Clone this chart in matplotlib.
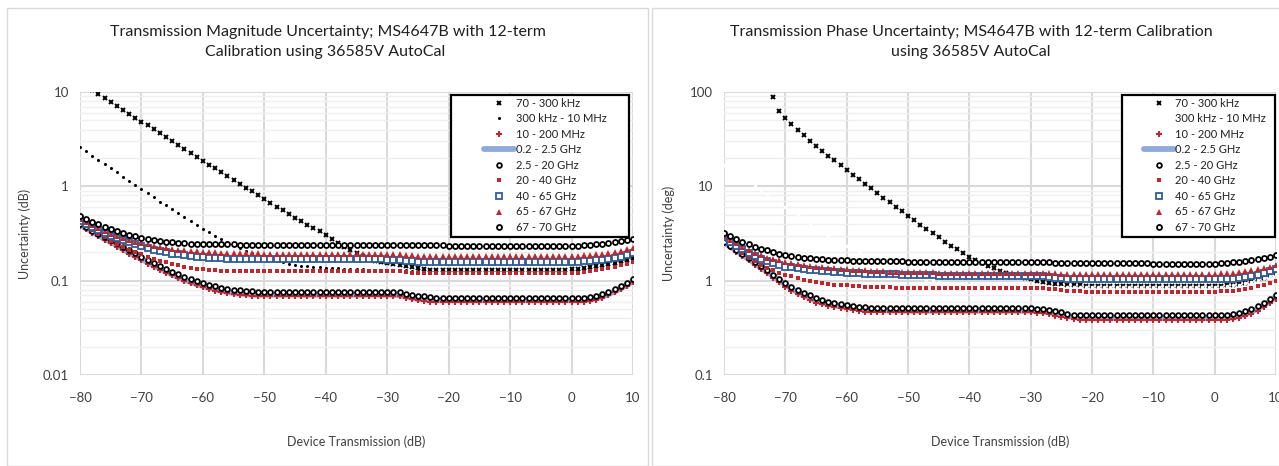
import numpy as np
import matplotlib
matplotlib.use("Agg")
import matplotlib.pyplot as plt
from matplotlib import ticker
from matplotlib.patches import Rectangle

plt.rcParams["font.family"] = ["Lato", "DejaVu Sans"]

# x axis: device transmission (dB), one point per dB
transmission_db = list(range(-80, 11))

series_names = ["70 - 300 kHz", "300 kHz - 10 MHz", "10 - 200 MHz", "0.2 - 2.5 GHz",
                "2.5 - 20 GHz", "20 - 40 GHz", "40 - 65 GHz", "65 - 67 GHz", "67 - 70 GHz"]

# ---- magnitude uncertainty (dB) ----
mag_70k = [
    12.6, 11.4, 10.4, 9.47, 8.61, 7.83, 7.11, 6.47, 5.88, 5.34,
    4.86, 4.42, 4.01, 3.65, 3.32, 3.01, 2.74, 2.49, 2.26, 2.06,
    1.87, 1.70, 1.55, 1.41, 1.28, 1.17, 1.07, 0.970, 0.885, 0.806,
    0.734, 0.670, 0.611, 0.558, 0.510, 0.466, 0.428, 0.393, 0.361, 0.333,
    0.305, 0.278, 0.252, 0.230, 0.210, 0.195, 0.182, 0.172, 0.163, 0.157,
    0.153, 0.150, 0.147, 0.144, 0.140, 0.136, 0.133, 0.131, 0.130, 0.130,
    0.130, 0.130, 0.130, 0.130, 0.130, 0.130, 0.130, 0.130, 0.130, 0.130,
    0.130, 0.130, 0.130, 0.130, 0.130, 0.130, 0.130, 0.130, 0.130, 0.130,
    0.132, 0.134, 0.136, 0.139, 0.142, 0.146, 0.150, 0.155, 0.160, 0.166, 0.172]
mag_300k = [
    2.60, 2.35, 2.12, 1.91, 1.72, 1.56, 1.41, 1.27, 1.15, 1.04,
    0.94, 0.85, 0.77, 0.69, 0.627, 0.569, 0.516, 0.469, 0.426, 0.388,
    0.355, 0.325, 0.299, 0.276, 0.255, 0.236, 0.220, 0.206, 0.195, 0.185,
    0.176, 0.168, 0.162, 0.156, 0.152, 0.148, 0.144, 0.142, 0.140, 0.138,
    0.137, 0.136, 0.135, 0.134, 0.133, 0.132, 0.132, 0.131, 0.131, 0.130,
    0.130, 0.130, 0.130, 0.130, 0.128, 0.128, 0.128, 0.128, 0.128, 0.128,
    0.128, 0.128, 0.128, 0.128, 0.128, 0.128, 0.128, 0.128, 0.128, 0.128,
    0.128, 0.128, 0.128, 0.128, 0.128, 0.128, 0.128, 0.128, 0.128, 0.128,
    0.130, 0.132, 0.134, 0.137, 0.140, 0.144, 0.148, 0.153, 0.158, 0.164, 0.170]
mag_10m = [
    0.38, 0.35, 0.32, 0.295, 0.27, 0.25, 0.23, 0.21, 0.193, 0.178,
    0.165, 0.152, 0.141, 0.131, 0.122, 0.114, 0.106, 0.099, 0.094, 0.089,
    0.085, 0.081, 0.078, 0.076, 0.074, 0.072, 0.071, 0.070, 0.069, 0.069,
    0.069, 0.069, 0.069, 0.069, 0.069, 0.069, 0.069, 0.069, 0.069, 0.069,
    0.069, 0.069, 0.069, 0.069, 0.069, 0.069, 0.069, 0.069, 0.069, 0.069,
    0.069, 0.069, 0.068, 0.066, 0.064, 0.062, 0.061, 0.060, 0.060, 0.060,
    0.060, 0.060, 0.060, 0.060, 0.060, 0.060, 0.060, 0.060, 0.060, 0.060,
    0.060, 0.060, 0.060, 0.060, 0.060, 0.060, 0.060, 0.060, 0.060, 0.060,
    0.060, 0.060, 0.060, 0.061, 0.063, 0.066, 0.070, 0.075, 0.081, 0.088, 0.097]
mag_200m = [
    0.39, 0.36, 0.33, 0.303, 0.278, 0.257, 0.237, 0.216, 0.199, 0.183,
    0.170, 0.157, 0.145, 0.135, 0.126, 0.117, 0.109, 0.102, 0.097, 0.092,
    0.088, 0.084, 0.081, 0.078, 0.076, 0.074, 0.073, 0.072, 0.071, 0.071,
    0.071, 0.071, 0.071, 0.071, 0.071, 0.071, 0.071, 0.071, 0.071, 0.071,
    0.071, 0.071, 0.071, 0.071, 0.071, 0.071, 0.071, 0.071, 0.071, 0.071,
    0.071, 0.071, 0.070, 0.068, 0.066, 0.064, 0.063, 0.062, 0.062, 0.062,
    0.062, 0.062, 0.062, 0.062, 0.062, 0.062, 0.062, 0.062, 0.062, 0.062,
    0.062, 0.062, 0.062, 0.062, 0.062, 0.062, 0.062, 0.062, 0.062, 0.062,
    0.062, 0.062, 0.062, 0.063, 0.065, 0.068, 0.072, 0.077, 0.083, 0.090, 0.099]
mag_2g = [
    0.40, 0.37, 0.34, 0.315, 0.29, 0.27, 0.25, 0.23, 0.21, 0.195,
    0.180, 0.167, 0.155, 0.144, 0.134, 0.125, 0.117, 0.110, 0.104, 0.098,
    0.094, 0.090, 0.087, 0.084, 0.082, 0.080, 0.079, 0.078, 0.077, 0.076,
    0.076, 0.076, 0.076, 0.076, 0.076, 0.076, 0.076, 0.076, 0.076, 0.076,
    0.076, 0.076, 0.076, 0.076, 0.076, 0.076, 0.076, 0.076, 0.076, 0.076,
    0.076, 0.076, 0.075, 0.073, 0.071, 0.069, 0.068, 0.067, 0.066, 0.066,
    0.066, 0.066, 0.066, 0.066, 0.066, 0.066, 0.066, 0.066, 0.066, 0.066,
    0.066, 0.066, 0.066, 0.066, 0.066, 0.066, 0.066, 0.066, 0.066, 0.066,
    0.066, 0.066, 0.066, 0.067, 0.069, 0.072, 0.076, 0.081, 0.087, 0.095, 0.105]
mag_20g = [
    0.42, 0.38, 0.345, 0.315, 0.29, 0.265, 0.245, 0.228, 0.213, 0.200,
    0.190, 0.180, 0.171, 0.163, 0.156, 0.150, 0.145, 0.141, 0.137, 0.134,
    0.132, 0.130, 0.129, 0.128, 0.127, 0.126, 0.126, 0.126, 0.126, 0.126,
    0.126, 0.126, 0.126, 0.126, 0.126, 0.126, 0.126, 0.126, 0.126, 0.126,
    0.126, 0.126, 0.126, 0.126, 0.126, 0.126, 0.126, 0.126, 0.126, 0.126,
    0.126, 0.126, 0.126, 0.124, 0.122, 0.120, 0.120, 0.120, 0.120, 0.120,
    0.120, 0.120, 0.120, 0.120, 0.120, 0.120, 0.120, 0.120, 0.120, 0.120,
    0.120, 0.120, 0.120, 0.120, 0.120, 0.120, 0.120, 0.120, 0.120, 0.120,
    0.121, 0.122, 0.124, 0.126, 0.129, 0.132, 0.136, 0.140, 0.145, 0.151, 0.158]
mag_40g = [
    0.43, 0.40, 0.37, 0.345, 0.32, 0.30, 0.283, 0.268, 0.255, 0.243,
    0.232, 0.222, 0.213, 0.205, 0.199, 0.194, 0.190, 0.186, 0.183, 0.180,
    0.178, 0.176, 0.174, 0.172, 0.171, 0.170, 0.169, 0.169, 0.168, 0.168,
    0.168, 0.168, 0.168, 0.168, 0.168, 0.168, 0.168, 0.168, 0.168, 0.168,
    0.168, 0.168, 0.168, 0.168, 0.168, 0.168, 0.168, 0.168, 0.168, 0.168,
    0.167, 0.167, 0.165, 0.163, 0.161, 0.159, 0.158, 0.157, 0.157, 0.157,
    0.157, 0.157, 0.157, 0.157, 0.157, 0.157, 0.157, 0.157, 0.157, 0.157,
    0.157, 0.157, 0.157, 0.157, 0.157, 0.157, 0.157, 0.157, 0.157, 0.157,
    0.157, 0.158, 0.160, 0.162, 0.164, 0.167, 0.171, 0.175, 0.180, 0.187, 0.195]
mag_65g = [
    0.45, 0.42, 0.39, 0.36, 0.335, 0.31, 0.295, 0.28, 0.268, 0.258,
    0.250, 0.242, 0.235, 0.228, 0.222, 0.217, 0.213, 0.210, 0.207, 0.204,
    0.202, 0.200, 0.199, 0.198, 0.197, 0.196, 0.196, 0.195, 0.195, 0.195,
    0.194, 0.194, 0.194, 0.194, 0.194, 0.194, 0.194, 0.194, 0.194, 0.194,
    0.193, 0.193, 0.193, 0.193, 0.193, 0.193, 0.193, 0.193, 0.193, 0.193,
    0.192, 0.191, 0.190, 0.188, 0.186, 0.184, 0.183, 0.182, 0.182, 0.182,
    0.182, 0.182, 0.182, 0.182, 0.182, 0.182, 0.182, 0.182, 0.182, 0.182,
    0.182, 0.182, 0.182, 0.182, 0.182, 0.182, 0.182, 0.182, 0.182, 0.182,
    0.182, 0.183, 0.185, 0.187, 0.190, 0.193, 0.197, 0.202, 0.208, 0.214, 0.221]
mag_67g = [
    0.48, 0.45, 0.42, 0.395, 0.37, 0.35, 0.335, 0.32, 0.305, 0.295,
    0.285, 0.277, 0.270, 0.264, 0.259, 0.255, 0.252, 0.249, 0.247, 0.245,
    0.244, 0.243, 0.243, 0.242, 0.242, 0.242, 0.241, 0.241, 0.241, 0.241,
    0.240, 0.240, 0.240, 0.240, 0.240, 0.240, 0.240, 0.240, 0.240, 0.240,
    0.239, 0.239, 0.239, 0.239, 0.239, 0.239, 0.239, 0.239, 0.239, 0.239,
    0.237, 0.237, 0.237, 0.237, 0.237, 0.237, 0.237, 0.237, 0.237, 0.237,
    0.234, 0.234, 0.234, 0.234, 0.234, 0.234, 0.234, 0.234, 0.234, 0.234,
    0.232, 0.232, 0.232, 0.232, 0.232, 0.232, 0.232, 0.232, 0.232, 0.232,
    0.233, 0.235, 0.237, 0.240, 0.243, 0.246, 0.250, 0.255, 0.261, 0.268, 0.276]

# ---- phase uncertainty (deg) ----
ph_70k = [
    None, None, None, None, None, None, None, None, 88.0, 63.3,
    52.9, 45.5, 39.6, 34.7, 30.5, 27.0, 23.9, 21.2, 18.9, 16.8,
    14.95, 13.3, 11.9, 10.6, 9.5, 8.5, 7.6, 6.8, 6.1, 5.5,
    4.87, 4.37, 3.92, 3.54, 3.18, 2.87, 2.59, 2.35, 2.14, 1.96,
    1.80, 1.66, 1.53, 1.43, 1.35, 1.28, 1.22, 1.16, 1.11, 1.07,
    1.03, 1.00, 0.97, 0.95, 0.93, 0.915, 0.905, 0.895, 0.89, 0.885,
    0.88, 0.88, 0.88, 0.88, 0.88, 0.88, 0.88, 0.88, 0.88, 0.88,
    0.88, 0.88, 0.88, 0.88, 0.88, 0.88, 0.88, 0.88, 0.88, 0.88,
    0.88, 0.885, 0.895, 0.91, 0.93, 0.955, 0.99, 1.03, 1.08, 1.14, 1.21]
ph_300k = [
    17.0, 15.3, 13.8, 12.5, 11.3, 10.2, 9.2, 8.3, 7.5, 6.7,
    6.1, 5.5, 4.95, 4.47, 4.03, 3.64, 3.28, 2.96, 2.67, 2.41,
    2.33, 2.14, 1.96, 1.81, 1.67, 1.55, 1.45, 1.36, 1.28, 1.21,
    1.15, 1.10, 1.06, 1.02, 0.99, 0.97, 0.95, 0.93, 0.915, 0.90,
    0.89, 0.885, 0.88, 0.875, 0.87, 0.87, 0.865, 0.865, 0.86, 0.86,
    0.86, 0.86, 0.86, 0.86, 0.86, 0.86, 0.86, 0.86, 0.86, 0.86,
    0.86, 0.86, 0.86, 0.86, 0.86, 0.86, 0.86, 0.86, 0.86, 0.86,
    0.86, 0.86, 0.86, 0.86, 0.86, 0.86, 0.86, 0.86, 0.86, 0.86,
    0.86, 0.865, 0.875, 0.89, 0.91, 0.935, 0.97, 1.01, 1.06, 1.12, 1.19]
ph_10m = [
    2.50, 2.25, 2.03, 1.83, 1.65, 1.48, 1.33, 1.20, 1.08, 0.97,
    0.86, 0.775, 0.72, 0.67, 0.63, 0.585, 0.56, 0.54, 0.522, 0.51,
    0.495, 0.485, 0.477, 0.47, 0.466, 0.463, 0.461, 0.46, 0.46, 0.46,
    0.46, 0.46, 0.46, 0.46, 0.46, 0.46, 0.46, 0.46, 0.46, 0.46,
    0.46, 0.46, 0.46, 0.46, 0.46, 0.46, 0.46, 0.46, 0.46, 0.46,
    0.46, 0.455, 0.45, 0.44, 0.425, 0.41, 0.40, 0.39, 0.385, 0.38,
    0.38, 0.38, 0.38, 0.38, 0.38, 0.38, 0.38, 0.38, 0.38, 0.38,
    0.38, 0.38, 0.38, 0.38, 0.38, 0.38, 0.38, 0.38, 0.38, 0.38,
    0.38, 0.38, 0.385, 0.39, 0.40, 0.42, 0.445, 0.48, 0.525, 0.58, 0.64]
ph_200m = [
    2.55, 2.30, 2.08, 1.88, 1.70, 1.53, 1.38, 1.25, 1.12, 1.01,
    0.91, 0.82, 0.755, 0.70, 0.66, 0.615, 0.585, 0.565, 0.548, 0.535,
    0.525, 0.513, 0.505, 0.498, 0.492, 0.488, 0.485, 0.483, 0.482, 0.482,
    0.48, 0.48, 0.48, 0.48, 0.48, 0.48, 0.48, 0.48, 0.48, 0.48,
    0.48, 0.48, 0.48, 0.48, 0.48, 0.48, 0.48, 0.48, 0.48, 0.48,
    0.48, 0.477, 0.472, 0.462, 0.448, 0.433, 0.423, 0.413, 0.407, 0.402,
    0.40, 0.40, 0.40, 0.40, 0.40, 0.40, 0.40, 0.40, 0.40, 0.40,
    0.40, 0.40, 0.40, 0.40, 0.40, 0.40, 0.40, 0.40, 0.40, 0.40,
    0.40, 0.40, 0.405, 0.41, 0.425, 0.445, 0.47, 0.505, 0.55, 0.605, 0.67]
ph_2g = [
    2.60, 2.35, 2.13, 1.92, 1.74, 1.57, 1.42, 1.29, 1.16, 1.05,
    0.95, 0.86, 0.80, 0.745, 0.70, 0.65, 0.62, 0.60, 0.58, 0.567,
    0.555, 0.54, 0.532, 0.524, 0.518, 0.513, 0.51, 0.51, 0.51, 0.51,
    0.51, 0.51, 0.51, 0.51, 0.51, 0.51, 0.51, 0.51, 0.51, 0.51,
    0.51, 0.51, 0.51, 0.51, 0.51, 0.51, 0.51, 0.51, 0.51, 0.51,
    0.51, 0.505, 0.50, 0.49, 0.475, 0.46, 0.445, 0.435, 0.43, 0.43,
    0.43, 0.43, 0.43, 0.43, 0.43, 0.43, 0.43, 0.43, 0.43, 0.43,
    0.43, 0.43, 0.43, 0.43, 0.43, 0.43, 0.43, 0.43, 0.43, 0.43,
    0.43, 0.43, 0.435, 0.44, 0.455, 0.475, 0.50, 0.54, 0.585, 0.64, 0.71]
ph_20g = [
    2.80, 2.48, 2.20, 1.96, 1.76, 1.60, 1.47, 1.37, 1.29, 1.22,
    1.16, 1.11, 1.06, 1.02, 0.99, 0.96, 0.94, 0.925, 0.91, 0.90,
    0.89, 0.88, 0.87, 0.865, 0.86, 0.855, 0.85, 0.85, 0.845, 0.845,
    0.845, 0.845, 0.845, 0.845, 0.845, 0.845, 0.845, 0.845, 0.845, 0.845,
    0.845, 0.845, 0.845, 0.845, 0.845, 0.845, 0.845, 0.845, 0.845, 0.845,
    0.845, 0.84, 0.835, 0.825, 0.81, 0.795, 0.785, 0.775, 0.77, 0.765,
    0.765, 0.765, 0.765, 0.765, 0.765, 0.765, 0.765, 0.765, 0.765, 0.765,
    0.765, 0.765, 0.765, 0.765, 0.765, 0.765, 0.765, 0.765, 0.765, 0.765,
    0.765, 0.77, 0.775, 0.785, 0.80, 0.82, 0.845, 0.875, 0.91, 0.955, 1.00]
ph_40g = [
    2.90, 2.60, 2.35, 2.14, 1.97, 1.83, 1.71, 1.61, 1.53, 1.46,
    1.41, 1.38, 1.35, 1.33, 1.31, 1.29, 1.27, 1.255, 1.24, 1.23,
    1.22, 1.21, 1.20, 1.19, 1.185, 1.18, 1.175, 1.17, 1.165, 1.16,
    1.155, 1.15, 1.145, 1.14, 1.135, 1.13, 1.13, 1.125, 1.125, 1.12,
    1.12, 1.12, 1.12, 1.12, 1.12, 1.12, 1.12, 1.12, 1.12, 1.12,
    1.12, 1.115, 1.11, 1.10, 1.08, 1.06, 1.05, 1.04, 1.035, 1.03,
    1.03, 1.03, 1.03, 1.03, 1.03, 1.03, 1.03, 1.03, 1.03, 1.03,
    1.03, 1.03, 1.03, 1.03, 1.03, 1.03, 1.03, 1.03, 1.03, 1.03,
    1.03, 1.035, 1.04, 1.05, 1.07, 1.09, 1.12, 1.16, 1.20, 1.26, 1.33]
ph_65g = [
    3.00, 2.72, 2.48, 2.27, 2.10, 1.96, 1.85, 1.76, 1.69, 1.64,
    1.59, 1.54, 1.50, 1.47, 1.44, 1.41, 1.39, 1.37, 1.35, 1.34,
    1.32, 1.31, 1.30, 1.29, 1.28, 1.27, 1.26, 1.25, 1.245, 1.24,
    1.235, 1.23, 1.23, 1.225, 1.225, 1.22, 1.22, 1.22, 1.22, 1.22,
    1.22, 1.22, 1.22, 1.22, 1.22, 1.22, 1.22, 1.22, 1.22, 1.22,
    1.22, 1.21, 1.21, 1.20, 1.20, 1.19, 1.19, 1.19, 1.19, 1.19,
    1.19, 1.19, 1.19, 1.19, 1.19, 1.19, 1.19, 1.19, 1.19, 1.19,
    1.19, 1.19, 1.19, 1.19, 1.19, 1.19, 1.19, 1.19, 1.19, 1.19,
    1.19, 1.20, 1.21, 1.22, 1.24, 1.26, 1.29, 1.32, 1.36, 1.41, 1.46]
ph_67g = [
    3.20, 2.95, 2.75, 2.57, 2.42, 2.30, 2.19, 2.09, 2.00, 1.93,
    1.87, 1.82, 1.78, 1.75, 1.72, 1.70, 1.68, 1.67, 1.66, 1.65,
    1.64, 1.63, 1.62, 1.615, 1.61, 1.605, 1.60, 1.60, 1.60, 1.60,
    1.59, 1.59, 1.59, 1.59, 1.59, 1.59, 1.59, 1.59, 1.59, 1.59,
    1.58, 1.58, 1.58, 1.58, 1.58, 1.58, 1.58, 1.58, 1.58, 1.58,
    1.57, 1.57, 1.56, 1.56, 1.55, 1.55, 1.55, 1.54, 1.54, 1.54,
    1.53, 1.53, 1.53, 1.53, 1.53, 1.53, 1.53, 1.53, 1.53, 1.53,
    1.52, 1.52, 1.52, 1.52, 1.52, 1.52, 1.52, 1.52, 1.52, 1.52,
    1.52, 1.53, 1.54, 1.56, 1.58, 1.61, 1.64, 1.68, 1.73, 1.79, 1.86]

RED = "#c0262d"
BLACK = "#000000"
LBLUE = "#8eaadb"
DBLUE = "#2e5e9b"


def styles(white_second):
    second = dict(marker="o", ms=2.2, mfc=BLACK, mec=BLACK, mew=0, zorder=3)
    if white_second:
        second = dict(marker="o", ms=2.6, mfc="white", mec="white", mew=0, zorder=3)
    return [
        dict(marker="x", ms=3.3, mec=BLACK, mew=1.4, zorder=3),
        second,
        dict(marker="+", ms=4.5, mec=RED, mew=1.5, zorder=3),
        dict(color=LBLUE, lw=4.2, solid_capstyle="round", zorder=2),
        dict(marker="o", ms=3.4, mfc="white", mec=BLACK, mew=1.3, zorder=3),
        dict(marker="s", ms=3.0, mfc=RED, mec=RED, mew=0, zorder=3),
        dict(marker="s", ms=4.0, mfc="white", mec=DBLUE, mew=1.3, zorder=3),
        dict(marker="^", ms=4.6, mfc=RED, mec=RED, mew=0, zorder=3),
        dict(marker="o", ms=3.6, mfc="white", mec=BLACK, mew=1.3, zorder=3),
    ]


def draw_panel(ax, series, ylim, ylabel, white_second, leg_box, leg_anchor):
    x = np.array(transmission_db)
    for name, vals, st in zip(series_names, series, styles(white_second)):
        y = np.array([np.nan if v is None else v for v in vals], dtype=float)
        if "lw" in st:
            ax.plot(x, y, label=name, **st)
        else:
            ax.plot(x, y, ls="none", label=name, **st)
    ax.set_yscale("log")
    ax.set_ylim(*ylim)
    ax.set_xlim(-80, 10)
    ax.set_xticks(range(-80, 11, 10))
    ax.yaxis.set_major_formatter(ticker.FuncFormatter(lambda v, _: f"{v:g}"))
    ax.yaxis.set_minor_formatter(ticker.NullFormatter())
    ax.yaxis.set_minor_locator(ticker.LogLocator(base=10, subs=np.arange(2, 10)))
    ax.grid(True, which="major", color="#d9d9d9", lw=1.5, zorder=0)
    ax.grid(True, which="minor", axis="y", color="#efefef", lw=1.0, zorder=0)
    ax.set_axisbelow(True)
    for s in ax.spines.values():
        s.set_visible(False)
    ax.tick_params(which="both", length=0, labelsize=9.5, colors="#404040")
    ax.tick_params(axis="x", pad=12)
    ax.tick_params(axis="y", pad=8)
    ax.set_xlabel("Device Transmission (dB)", fontsize=9, color="#404040")
    ax.set_ylabel(ylabel, fontsize=9, color="#404040")
    ax.xaxis.set_label_coords(0.5, -0.215)
    ax.yaxis.set_label_coords(-0.088, 0.5)
    ax.add_patch(Rectangle((leg_box[0], leg_box[1]), leg_box[2], leg_box[3],
                           transform=ax.transAxes, fill=True, facecolor="white",
                           edgecolor="black", lw=1.6, zorder=5, clip_on=False))
    leg = ax.legend(loc="upper left", bbox_to_anchor=leg_anchor, frameon=False,
                    fontsize=8, handlelength=2.7, handletextpad=0.1,
                    labelspacing=0.41, borderaxespad=0, borderpad=0.22,
                    numpoints=1)
    leg.set_zorder(6)
    for t in leg.get_texts():
        t.set_color("#202020")


fig = plt.figure(figsize=(12.79, 4.66), dpi=100)

# panel frames
fig.patches.append(Rectangle((7 / 1279, 0), 641 / 1279, 458 / 466, transform=fig.transFigure,
                             fill=False, edgecolor="#d9d9d9", lw=1.0))
fig.patches.append(Rectangle((652 / 1279, 0), 700 / 1279, 458 / 466, transform=fig.transFigure,
                             fill=False, edgecolor="#d9d9d9", lw=1.0))

ax1 = fig.add_axes([80 / 1279, 1 - 375 / 466, 553 / 1279, 283 / 466])
ax2 = fig.add_axes([724 / 1279, 1 - 375 / 466, 552 / 1279, 283 / 466])

mag_series = [mag_70k, mag_300k, mag_10m, mag_200m, mag_2g, mag_20g, mag_40g, mag_65g, mag_67g]
ph_series = [ph_70k, ph_300k, ph_10m, ph_200m, ph_2g, ph_20g, ph_40g, ph_65g, ph_67g]

draw_panel(ax1, mag_series, (0.01, 10), "Uncertainty (dB)", False,
           (0.671, 0.488, 0.322, 0.501), (0.727, 0.989))
draw_panel(ax2, ph_series, (0.1, 100), "Uncertainty (deg)", True,
           (0.721, 0.488, 0.277, 0.501), (0.756, 0.989))

tkw = dict(ha="center", va="center", fontsize=11.5, color="#202020")
fig.text(328 / 1279, 1 - 32 / 466, "Transmission Magnitude Uncertainty; MS4647B with 12-term", **tkw)
fig.text(325 / 1279, 1 - 52 / 466, "Calibration using 36585V AutoCal", **tkw)
fig.text(971 / 1279, 1 - 32 / 466, "Transmission Phase Uncertainty; MS4647B with 12-term Calibration", **tkw)
fig.text(971 / 1279, 1 - 52 / 466, "using 36585V AutoCal", **tkw)

fig.savefig("out.png", dpi=100)
